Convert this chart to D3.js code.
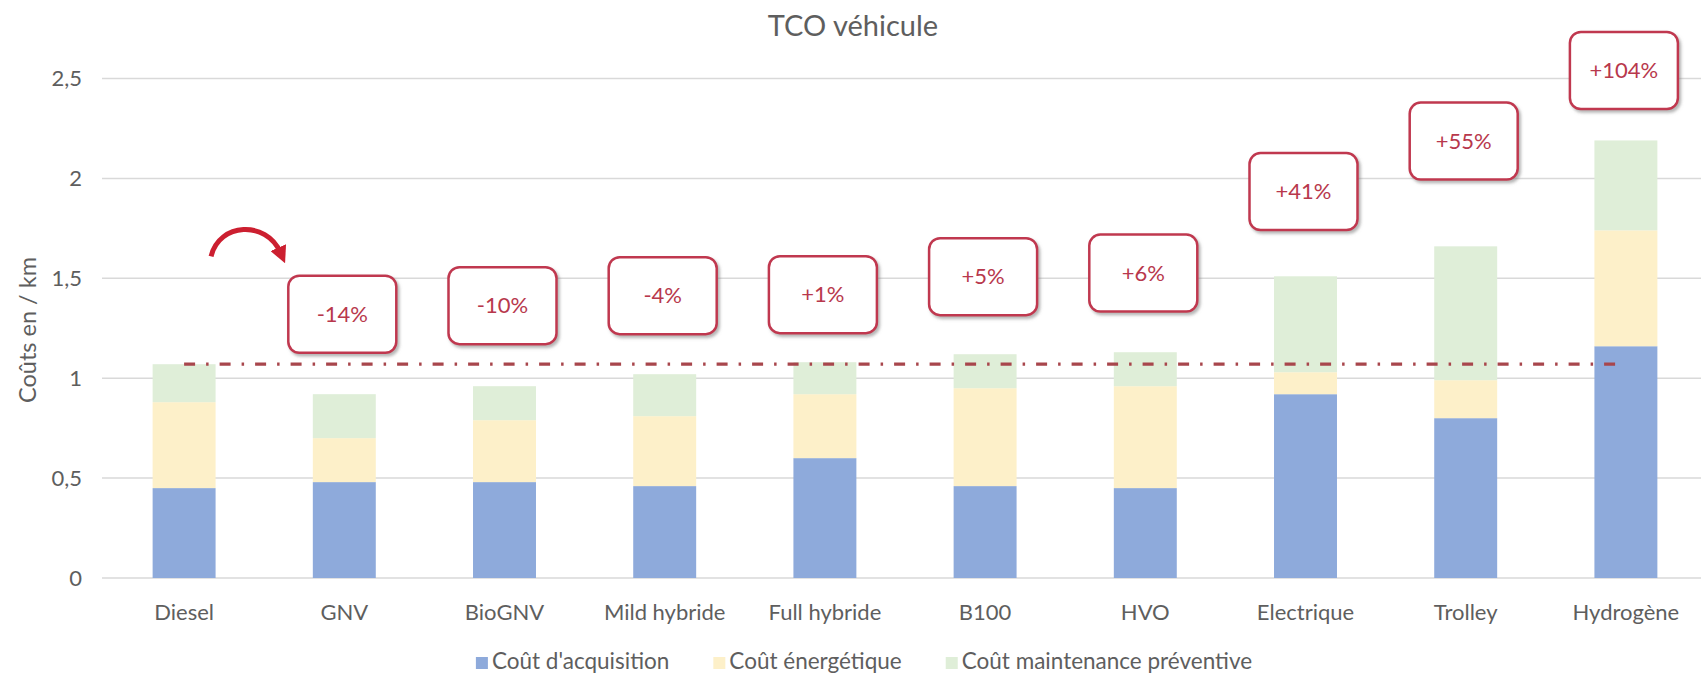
<!DOCTYPE html>
<html>
<head>
<meta charset="utf-8">
<script src="https://cdnjs.cloudflare.com/ajax/libs/d3/7.8.5/d3.min.js"></script>
<style>
  html, body { margin: 0; padding: 0; background: #fff; }
  svg text { font-family: Lato, 'Open Sans', sans-serif; }
</style>
</head>
<body>
<div id="graph"></div>
<script>
var categories = ['Diesel', 'GNV', 'BioGNV', 'Mild hybride', 'Full hybride', 'B100', 'HVO', 'Electrique', 'Trolley', 'Hydrogène'];
var acquisition = [0.45, 0.48, 0.48, 0.46, 0.60, 0.46, 0.45, 0.92, 0.80, 1.16];
var energetique = [0.43, 0.22, 0.31, 0.35, 0.32, 0.49, 0.51, 0.11, 0.19, 0.58];
var maintenance = [0.19, 0.22, 0.17, 0.21, 0.16, 0.17, 0.17, 0.48, 0.67, 0.45];
var seriesNames = ['Coût d\'acquisition', 'Coût énergétique', 'Coût maintenance préventive'];
var yTicks = [0, 0.5, 1, 1.5, 2, 2.5];

// ecarts par rapport au diesel, et hauteur (en €/km) du centre de chaque encadré
var ecartLabels = ['-14%', '-10%', '-4%', '+1%', '+5%', '+6%', '+41%', '+55%', '+104%'];
var ecartCategories = categories.slice(1);
var ecartHeights = [1.32, 1.363, 1.413, 1.418, 1.508, 1.526, 1.934, 2.187, 2.54];

var width = 1701;
var height = 678;
var colors = ['#8eaadb', '#fdf0c9', '#dfeed8'];
var textGrey = '#5e5e5e';
var red = '#b8384c';

var svg = d3.select('#graph')
  .append('svg')
  .attr('width', width)
  .attr('height', height);

var defs = svg.append('defs');
var shadow = defs.append('filter')
  .attr('id', 'shadow')
  .attr('x', '-20%').attr('y', '-20%')
  .attr('width', '150%').attr('height', '150%');
shadow.append('feDropShadow')
  .attr('dx', 2).attr('dy', 2.5)
  .attr('stdDeviation', 1.6)
  .attr('flood-color', '#777')
  .attr('flood-opacity', 0.55);

defs.append('marker')
  .attr('id', 'arrowhead')
  .attr('viewBox', '0 0 10 10')
  .attr('refX', 3).attr('refY', 5)
  .attr('markerWidth', 3.4).attr('markerHeight', 3.4)
  .attr('orient', 'auto')
  .append('path')
  .attr('d', 'M0,0 L10,5 L0,10 z')
  .attr('fill', '#cc1f30');

var x = d3.scaleBand()
  .domain(categories)
  .range([104, 1706])
  .paddingInner(0.607)
  .paddingOuter(0.3035);

var y = d3.scaleLinear()
  .domain([0, 2.5])
  .range([578, 78.5]);

var fr = d3.formatLocale({ decimal: ',', thousands: ' ', grouping: [3], currency: ['', ' €'] });
var fmt = fr.format('~g');

// titre
svg.append('text')
  .attr('x', 853)
  .attr('y', 36)
  .attr('text-anchor', 'middle')
  .attr('font-size', 29)
  .attr('fill', textGrey)
  .text('TCO véhicule');

// grille
svg.append('g')
  .selectAll('line')
  .data(yTicks)
  .enter()
  .append('line')
  .attr('x1', 102)
  .attr('x2', width)
  .attr('y1', function(d) { return y(d); })
  .attr('y2', function(d) { return y(d); })
  .attr('stroke', '#d9d9d9')
  .attr('stroke-width', 1.5);

var yAxis = svg.append('g')
  .attr('transform', 'translate(100,0)')
  .call(d3.axisLeft(y).tickValues(yTicks).tickFormat(fmt).tickSize(0).tickPadding(18));
yAxis.select('.domain').remove();
yAxis.selectAll('text')
  .attr('font-size', 22)
  .attr('fill', textGrey)
  .style('font-family', 'Lato, sans-serif');

svg.append('text')
  .attr('transform', 'translate(36,330) rotate(-90)')
  .attr('text-anchor', 'middle')
  .attr('font-size', 23.5)
  .attr('fill', textGrey)
  .text('Coûts en / km');

// barres empilées
var rows = categories.map(function(c, i) {
  return { cat: c, a: acquisition[i], e: energetique[i], m: maintenance[i] };
});
var stack = d3.stack().keys(['a', 'e', 'm']);
var layers = stack(rows);

svg.append('g')
  .selectAll('g')
  .data(layers)
  .enter()
  .append('g')
  .attr('fill', function(d, i) { return colors[i]; })
  .selectAll('rect')
  .data(function(d) { return d; })
  .enter()
  .append('rect')
  .attr('x', function(d) { return x(d.data.cat); })
  .attr('width', x.bandwidth())
  .attr('y', function(d) { return y(d[1]); })
  .attr('height', function(d) { return y(d[0]) - y(d[1]); });

var xAxis = svg.append('g')
  .attr('transform', 'translate(0,' + y(0) + ')')
  .call(d3.axisBottom(x).tickSize(0).tickPadding(26));
xAxis.select('.domain').remove();
xAxis.selectAll('text')
  .attr('font-size', 22)
  .attr('fill', textGrey)
  .style('font-family', 'Lato, sans-serif');

// ligne de référence diesel
var refValue = acquisition[0] + energetique[0] + maintenance[0];
svg.append('line')
  .attr('x1', x('Diesel') + x.bandwidth() / 2)
  .attr('x2', x('Hydrogène') + x.bandwidth() / 2)
  .attr('y1', y(refValue))
  .attr('y2', y(refValue))
  .attr('stroke', '#a8464c')
  .attr('stroke-width', 3.2)
  .attr('stroke-dasharray', '11,11,2.5,11');

// flèche courbe
var ax0 = x('Diesel') + x.bandwidth() / 2 + 27;
var ax1 = x('GNV') + x.bandwidth() / 2 - 64;
var ay = y(1.61);
svg.append('path')
  .attr('d', 'M' + ax0 + ',' + ay + ' C' + (ax0 + 8) + ',' + (ay - 34) + ' ' + (ax1 - 14) + ',' + (ay - 36) + ' ' + ax1 + ',' + (ay - 4))
  .attr('fill', 'none')
  .attr('stroke', '#cc1f30')
  .attr('stroke-width', 5)
  .attr('marker-end', 'url(#arrowhead)');

// encadrés
var boxW = 108;
var boxH = 77;
var boxes = svg.append('g')
  .selectAll('g')
  .data(ecartLabels)
  .enter()
  .append('g')
  .attr('transform', function(d, i) {
    return 'translate(' + (x(ecartCategories[i]) + x.bandwidth() / 2) + ',' + y(ecartHeights[i]) + ')';
  });

boxes.append('rect')
  .attr('x', -boxW / 2 - 2)
  .attr('y', -boxH / 2)
  .attr('width', boxW)
  .attr('height', boxH)
  .attr('rx', 11)
  .attr('fill', '#fff')
  .attr('stroke', '#c0384f')
  .attr('stroke-width', 2.5)
  .attr('filter', 'url(#shadow)');

boxes.append('text')
  .attr('x', -2)
  .attr('y', 0)
  .attr('dy', '0.35em')
  .attr('text-anchor', 'middle')
  .attr('font-size', 22)
  .attr('fill', red)
  .text(function(d) { return d; });

// légende
var legend = svg.append('g');
var lx = 0;
var gap = 44;
seriesNames.forEach(function(name, i) {
  var item = legend.append('g').attr('transform', 'translate(' + lx + ',0)');
  item.append('rect')
    .attr('x', 0).attr('y', -12)
    .attr('width', 12).attr('height', 12)
    .attr('fill', colors[i]);
  var t = item.append('text')
    .attr('x', 16)
    .attr('y', 0)
    .attr('font-size', 22.5)
    .attr('fill', textGrey)
    .text(name);
  lx += 16 + t.node().getComputedTextLength() + gap;
});
lx -= gap;
legend.attr('transform', 'translate(' + (864 - lx / 2) + ',669)');
</script>
</body>
</html>
